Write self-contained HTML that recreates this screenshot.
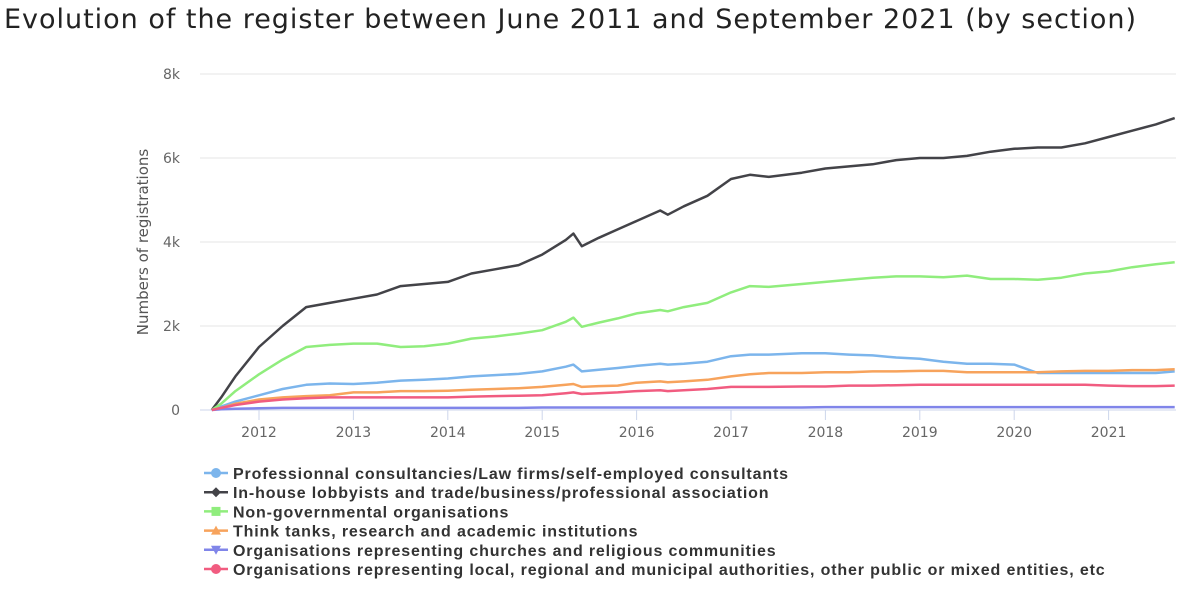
<!DOCTYPE html>
<html><head><meta charset="utf-8"><style>
body{margin:0;background:#fff;width:1200px;height:593px;overflow:hidden;font-family:"Liberation Sans","DejaVu Sans",sans-serif}
</style></head><body>
<svg id="c" width="1200" height="593">
<text x="4" y="28" font-size="27" fill="#222" font-family="DejaVu Sans, sans-serif" textLength="1132" lengthAdjust="spacing">Evolution of the register between June 2011 and September 2021 (by section)</text>
<text transform="translate(148,242) rotate(-90)" text-anchor="middle" font-size="15" fill="#555" font-family="DejaVu Sans, sans-serif">Numbers of registrations</text>
<g id="grid"></g><g id="xt"></g><g id="lines"></g><g id="legend"></g>
</svg>
<script>
const times=[2011.5,2011.6,2011.75,2012,2012.25,2012.5,2012.75,2013,2013.25,2013.5,2013.75,2014,2014.25,2014.5,2014.75,2015,2015.25,2015.33,2015.42,2015.6,2015.8,2016,2016.25,2016.33,2016.5,2016.75,2017,2017.2,2017.4,2017.75,2018,2018.25,2018.5,2018.75,2019,2019.25,2019.5,2019.75,2020,2020.25,2020.5,2020.75,2021,2021.25,2021.5,2021.7];
const profValues=[0,.08,.2,.35,.5,.6,.63,.62,.65,.7,.72,.75,.8,.83,.86,.92,1.03,1.08,.92,.96,1.0,1.05,1.1,1.08,1.1,1.15,1.28,1.32,1.32,1.35,1.35,1.32,1.3,1.25,1.22,1.15,1.1,1.1,1.08,.88,.88,.88,.88,.88,.88,.92];
const inhouseValues=[0,.3,.8,1.5,2.0,2.45,2.55,2.65,2.75,2.95,3.0,3.05,3.25,3.35,3.45,3.7,4.05,4.2,3.9,4.1,4.3,4.5,4.75,4.65,4.85,5.1,5.5,5.6,5.55,5.65,5.75,5.8,5.85,5.95,6.0,6.0,6.05,6.15,6.22,6.25,6.25,6.35,6.5,6.65,6.8,6.95];
const ngoValues=[0,.15,.45,.85,1.2,1.5,1.55,1.58,1.58,1.5,1.52,1.58,1.7,1.75,1.82,1.9,2.1,2.2,1.98,2.08,2.18,2.3,2.38,2.35,2.45,2.55,2.8,2.95,2.93,3.0,3.05,3.1,3.15,3.18,3.18,3.16,3.2,3.12,3.12,3.1,3.15,3.25,3.3,3.4,3.47,3.52];
const thinkValues=[0,.05,.15,.25,.3,.33,.35,.42,.42,.45,.45,.46,.48,.5,.52,.55,.6,.62,.55,.57,.58,.65,.68,.66,.68,.72,.8,.85,.88,.88,.9,.9,.92,.92,.93,.93,.9,.9,.9,.9,.92,.93,.93,.95,.95,.97];
const churchValues=[0,.02,.03,.04,.05,.05,.05,.05,.05,.05,.05,.05,.05,.05,.05,.06,.06,.06,.06,.06,.06,.06,.06,.06,.06,.06,.06,.06,.06,.06,.07,.07,.07,.07,.07,.07,.07,.07,.07,.07,.07,.07,.07,.07,.07,.07];
const localValues=[0,.05,.12,.2,.25,.28,.3,.3,.3,.3,.3,.3,.32,.33,.34,.35,.4,.42,.38,.4,.42,.45,.47,.45,.47,.5,.55,.55,.55,.56,.56,.58,.58,.59,.6,.6,.6,.6,.6,.6,.6,.6,.58,.57,.57,.58];
const yTicks=[0,2,4,6,8];
const yTickLabels=["0","2k","4k","6k","8k"];
const xTicks=[2012,2013,2014,2015,2016,2017,2018,2019,2020,2021];
const seriesNames=["Professionnal consultancies/Law firms/self-employed consultants","In-house lobbyists and trade/business/professional association","Non-governmental organisations","Think tanks, research and academic institutions","Organisations representing churches and religious communities","Organisations representing local, regional and municipal authorities, other public or mixed entities, etc"];
const NS="http://www.w3.org/2000/svg";
const X=t=>259+(t-2012)*94.4;
const Y=v=>410-v*42;
function mk(tag,attrs,parent){const e=document.createElementNS(NS,tag);for(const k in attrs)e.setAttribute(k,attrs[k]);parent.appendChild(e);return e;}
const grid=document.getElementById('grid');
yTicks.forEach((v,i)=>{
  const l=mk('line',{x1:200,x2:1176,y1:Y(v),y2:Y(v),stroke:v===0?'#ccd6eb':'#e6e6e6','stroke-width':1},grid);
  
  
  const t=mk('text',{x:180,y:Y(v)+5,'text-anchor':'end','font-size':14,fill:'#666','font-family':'DejaVu Sans, sans-serif'},grid);
  t.textContent=yTickLabels[i];
  
  
});
const xt=document.getElementById('xt');
xTicks.forEach(v=>{
  const l=mk('line',{x1:X(v),x2:X(v),y1:410,y2:420,stroke:'#ccd6eb'},xt);
  
  
  const t=mk('text',{x:X(v),y:437,'text-anchor':'middle','font-size':14,fill:'#666','font-family':'DejaVu Sans, sans-serif'},xt);
  t.textContent=v;
  
  
});
const series=[profValues,inhouseValues,ngoValues,thinkValues,churchValues,localValues];
const colors=['#7cb5ec','#434348','#90ed7d','#f7a35c','#8085e9','#f15c80'];
const ids=['professional','in-house','ngo','think-tanks','churches','local-authorities'];
const lines=document.getElementById('lines');
series.forEach((s,i)=>{
  const d=s.map((v,j)=>(j?'L':'M')+X(times[j]).toFixed(1)+','+Y(v).toFixed(1)).join('');
  const p=mk('path',{d:d,fill:'none',stroke:colors[i],'stroke-width':2.5,'stroke-linejoin':'round'},lines);
  
  
});
const lg=document.getElementById('legend');
const shapes=['circle','diamond','square','triangle','tri-down','circle'];
seriesNames.forEach((n,i)=>{
  const y=473+i*19.2;
  const g=mk('g',{},lg);
  
  
  mk('line',{x1:204,x2:228,y1:y,y2:y,stroke:colors[i],'stroke-width':2.5},g);
  const c=colors[i],cx=216;
  if(shapes[i]==='circle')mk('circle',{cx:cx,cy:y,r:5,fill:c},g);
  else if(shapes[i]==='diamond')mk('path',{d:`M${cx},${y-5}L${cx+5},${y}L${cx},${y+5}L${cx-5},${y}Z`,fill:c},g);
  else if(shapes[i]==='square')mk('rect',{x:cx-4.5,y:y-4.5,width:9,height:9,fill:c},g);
  else if(shapes[i]==='triangle')mk('path',{d:`M${cx},${y-5}L${cx+5},${y+4}L${cx-5},${y+4}Z`,fill:c},g);
  else mk('path',{d:`M${cx},${y+5}L${cx+5},${y-4}L${cx-5},${y-4}Z`,fill:c},g);
  const t=mk('text',{x:233,y:y+6,'font-size':16,'font-weight':'bold',fill:'#333','letter-spacing':'0.85'},g);
  t.textContent=n;
});
</script>
</body></html>
